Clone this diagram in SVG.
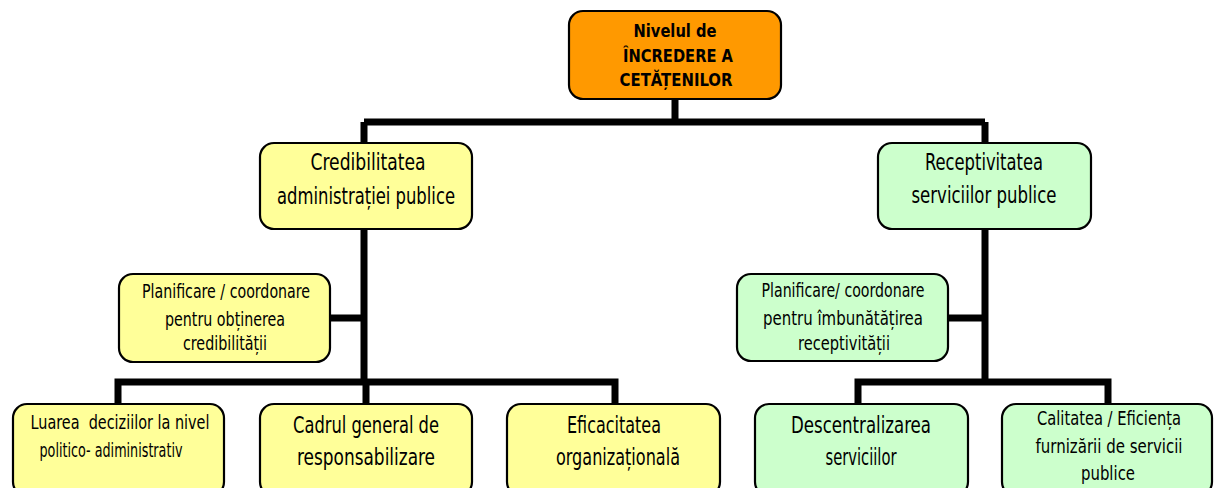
<svg xmlns="http://www.w3.org/2000/svg" width="1215" height="488" viewBox="0 0 1215 488">
<style>
.box{stroke:#000;stroke-width:2.2}
.o{fill:#FF9900}
.y{fill:#FFFF99}
.g{fill:#CCFFCC}
text{font-family:"Liberation Sans Narrow","DejaVu Sans Condensed","Liberation Sans",sans-serif;fill:#000;text-anchor:middle}
.t{font-size:18px;font-weight:bold}
.m{font-size:23px}
.s{font-size:19px}
.c{fill:none;stroke:#000;stroke-width:7;stroke-linejoin:miter}
</style>
<rect width="1215" height="488" fill="#fff"/>
<g id="connectors">
<path class="c" d="M675 99V122M364 122H985M364 122V143M985 122V143"/>
<path class="c" d="M364 229V382M330 318H364M118 404V382H615V404M366 382V404"/>
<path class="c" d="M985 229V382M948 318H985M858 404V382H1108V404"/>
</g>
<g id="n-top">
<rect class="box o" x="569" y="11" width="212" height="88" rx="14"/>
<text class="t" x="675" y="37" textLength="83" lengthAdjust="spacingAndGlyphs">Nivelul de</text>
<text class="t" x="678" y="62" textLength="110" lengthAdjust="spacingAndGlyphs">ÎNCREDERE A</text>
<text class="t" x="676" y="86" textLength="113" lengthAdjust="spacingAndGlyphs">CETĂȚENILOR</text>
</g>
<g id="n-cred">
<rect class="box y" x="260" y="143" width="212" height="86" rx="14"/>
<text class="m" x="368" y="170" textLength="115" lengthAdjust="spacingAndGlyphs">Credibilitatea</text>
<text class="m" x="366" y="204" textLength="178" lengthAdjust="spacingAndGlyphs">administrației publice</text>
</g>
<g id="n-recep">
<rect class="box g" x="878" y="143" width="213" height="86" rx="14"/>
<text class="m" x="984" y="170" textLength="118" lengthAdjust="spacingAndGlyphs">Receptivitatea</text>
<text class="m" x="984" y="203" textLength="145" lengthAdjust="spacingAndGlyphs">serviciilor publice</text>
</g>
<g id="n-plan-cred">
<rect class="box y" x="119" y="274" width="211" height="88" rx="14"/>
<text class="s" x="226" y="298" textLength="168" lengthAdjust="spacingAndGlyphs">Planificare / coordonare</text>
<text class="s" x="225" y="326" textLength="120" lengthAdjust="spacingAndGlyphs">pentru obținerea</text>
<text class="s" x="225" y="350" textLength="84" lengthAdjust="spacingAndGlyphs">credibilității</text>
</g>
<g id="n-plan-recep">
<rect class="box g" x="737" y="274" width="211" height="87" rx="14"/>
<text class="s" x="843" y="297" textLength="163" lengthAdjust="spacingAndGlyphs">Planificare/ coordonare</text>
<text class="s" x="843" y="325" textLength="160" lengthAdjust="spacingAndGlyphs">pentru îmbunătățirea</text>
<text class="s" x="844" y="350" textLength="92" lengthAdjust="spacingAndGlyphs">receptivității</text>
</g>
<g id="n-luarea">
<rect class="box y" x="13" y="404" width="211" height="92" rx="14"/>
<text class="s" x="120" y="429" textLength="179" lengthAdjust="spacingAndGlyphs" xml:space="preserve">Luarea  deciziilor la nivel</text>
<text class="s" x="111" y="457" textLength="143" lengthAdjust="spacingAndGlyphs">politico- adiministrativ</text>
</g>
<g id="n-cadrul">
<rect class="box y" x="260" y="404" width="212" height="92" rx="14"/>
<text class="m" x="366" y="433" textLength="146" lengthAdjust="spacingAndGlyphs">Cadrul general de</text>
<text class="m" x="366" y="465" textLength="138" lengthAdjust="spacingAndGlyphs">responsabilizare</text>
</g>
<g id="n-eficacitatea">
<rect class="box y" x="507" y="404" width="213" height="92" rx="14"/>
<text class="m" x="614" y="433" textLength="94" lengthAdjust="spacingAndGlyphs">Eficacitatea</text>
<text class="m" x="618" y="465" textLength="124" lengthAdjust="spacingAndGlyphs">organizațională</text>
</g>
<g id="n-descentralizarea">
<rect class="box g" x="755" y="404" width="213" height="92" rx="14"/>
<text class="m" x="861" y="433" textLength="140" lengthAdjust="spacingAndGlyphs">Descentralizarea</text>
<text class="m" x="861" y="465" textLength="71" lengthAdjust="spacingAndGlyphs">serviciilor</text>
</g>
<g id="n-calitatea">
<rect class="box g" x="1002" y="404" width="210" height="92" rx="14"/>
<text class="s" x="1109" y="425" textLength="144" lengthAdjust="spacingAndGlyphs">Calitatea / Eficiența</text>
<text class="s" x="1109" y="453" textLength="147" lengthAdjust="spacingAndGlyphs">furnizării de servicii</text>
<text class="s" x="1108" y="480" textLength="54" lengthAdjust="spacingAndGlyphs">publice</text>
</g>
</svg>
